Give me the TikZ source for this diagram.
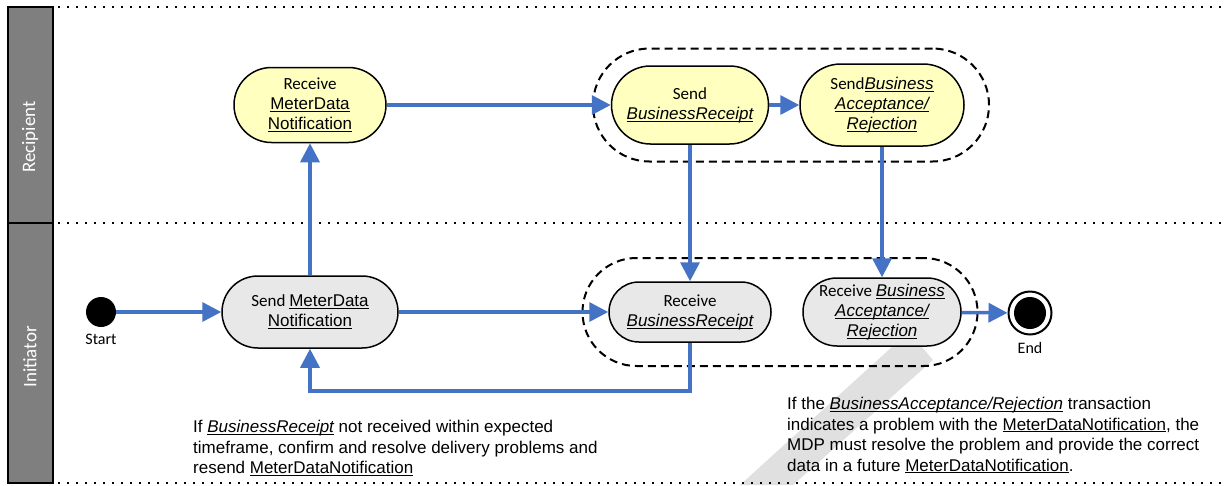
\documentclass[tikz,border=0pt]{standalone}
\usepackage{fontspec}
\setmainfont{Carlito}
\newfontfamily\arialfont{Liberation Sans}
\usetikzlibrary{arrows.meta,positioning}
\definecolor{flowblue}{RGB}{68,114,196}
\definecolor{recpyellow}{RGB}{255,255,192}
\definecolor{initgray}{RGB}{232,232,232}
\definecolor{lanegray}{RGB}{127,127,127}
\newcommand{\uterm}[1]{{\arialfont\underline{\smash{#1}}}}
\newcommand{\iuterm}[1]{{\arialfont\itshape\underline{\smash{#1}}}}
\tikzset{
  boxdims/.style 2 args={minimum width=#1, minimum height=#2, rounded corners=#2/2-0.05pt},
  task/.style={rectangle, draw=black, line width=1.5pt, align=center,
    inner sep=0pt, font=\fontsize{17}{20}\selectfont},
  recptask/.style={task, fill=recpyellow},
  inittask/.style={task, fill=initgray},
  group/.style={rectangle, draw=black, line width=2pt, inner sep=0pt,
    dash pattern=on 8pt off 5pt},
  flow/.style={draw=flowblue, line width=3.5pt, -{Triangle[length=19pt,width=19pt]}},
  swimline/.style={line width=1.5pt, dash pattern=on 1.5pt off 7.5pt},
  lane/.style={draw=black, line width=1.5pt, fill=lanegray},
  lanelabel/.style={rotate=90, text=white, inner sep=0pt, font=\fontsize{19}{22}\selectfont},
  endlabel/.style={inner sep=0pt, font=\fontsize{16}{19}\selectfont},
  note/.style={align=left, inner sep=0pt, anchor=north west,
    font=\arialfont\fontsize{17}{20.5}\selectfont}
}
\begin{document}
\begin{tikzpicture}[x=1pt,y=-1pt]
\useasboundingbox (0,0) rectangle (1228,485);
\fill[black!12] (893,346) -- (921,346) -- (933,360) -- (793,485) -- (740,485) -- cycle; % watermark
% swimlanes
\draw[lane] (8,7) rectangle (53,223);
\draw[lane] (8,223) rectangle (53,483);
\node (recplabel) [lanelabel] at (30,137) {Recipient};
\node (initlabel) [lanelabel] at (30,357) {Initiator};
\draw[swimline] (58,7) -- (1228,7);
\draw[swimline] (58,223) -- (1228,223);
\draw[swimline] (58,483) -- (1228,483);

\node (recpgroup) [group, boxdims={396pt}{113pt}] at (791,105) {};
\node (initgroup) [group, boxdims={395pt}{108pt}] at (780,312) {};

\node (recvmdn) [recptask, boxdims={152pt}{75pt}] at (310,105)
  {Receive\\\uterm{MeterData}\\\uterm{Notification}};
\node (sendbr) [recptask, boxdims={157pt}{78pt}] at (690,105)
  {Send\\\iuterm{BusinessReceipt}};
\node (sendbar) [recptask, boxdims={164pt}{82pt}, right=30pt of sendbr]
  {Send\iuterm{Business}\\\iuterm{Acceptance/}\\\iuterm{Rejection}};
\node (sendmdn) [inittask, boxdims={176pt}{72pt}] at (310,312)
  {Send \uterm{MeterData}\\\uterm{Notification}};
\node (recvbr) [inittask, boxdims={162pt}{60pt}] at (690,312)
  {Receive\\\iuterm{BusinessReceipt}};
\node (recvbar) [inittask, boxdims={158pt}{68pt}] at (sendbar |- recvbr)
  {Receive \iuterm{Business}\\\iuterm{Acceptance/}\\\iuterm{Rejection}};

\node (start) [circle, fill=black, minimum size=30pt, inner sep=0pt] at (101,312) {};
\node (startlabel) [endlabel, below=7pt of start] {Start};
\node (finish) [circle, draw=black, line width=2pt, fill=white, minimum size=43pt, inner sep=0pt] at (1030,313) {};
\node (finishdot) [circle, fill=black, minimum size=32pt, inner sep=0pt] at (finish) {};
\node (finishlabel) [endlabel, below=7pt of finish] {End};

\draw[flow] (start) -- (sendmdn);
\draw[flow] (sendmdn) -- (recvmdn);
\draw[flow] (recvmdn) -- (sendbr);
\draw[flow] (sendbr) -- (sendbar);
\draw[flow] (sendbr) -- (recvbr);
\draw[flow] (sendbar) -- (recvbar);
\draw[flow] (sendmdn) -- (recvbr);
\draw[flow] (recvbar) -- (finish);
\draw[flow] (recvbr.south) -- ++(0,48) -| (sendmdn.south);

\node (resendnote) [note] at (193,420) {If \iuterm{BusinessReceipt} not received within expected\\
  timeframe, confirm and resolve delivery problems and\\
  resend \uterm{MeterDataNotification}};
\node (rejectnote) [note] at (787,397) {If the \iuterm{BusinessAcceptance/Rejection} transaction\\
  indicates a problem with the \uterm{MeterDataNotification}, the\\
  MDP must resolve the problem and provide the correct\\
  data in a future \uterm{MeterDataNotification}.};
\end{tikzpicture}
\end{document}
